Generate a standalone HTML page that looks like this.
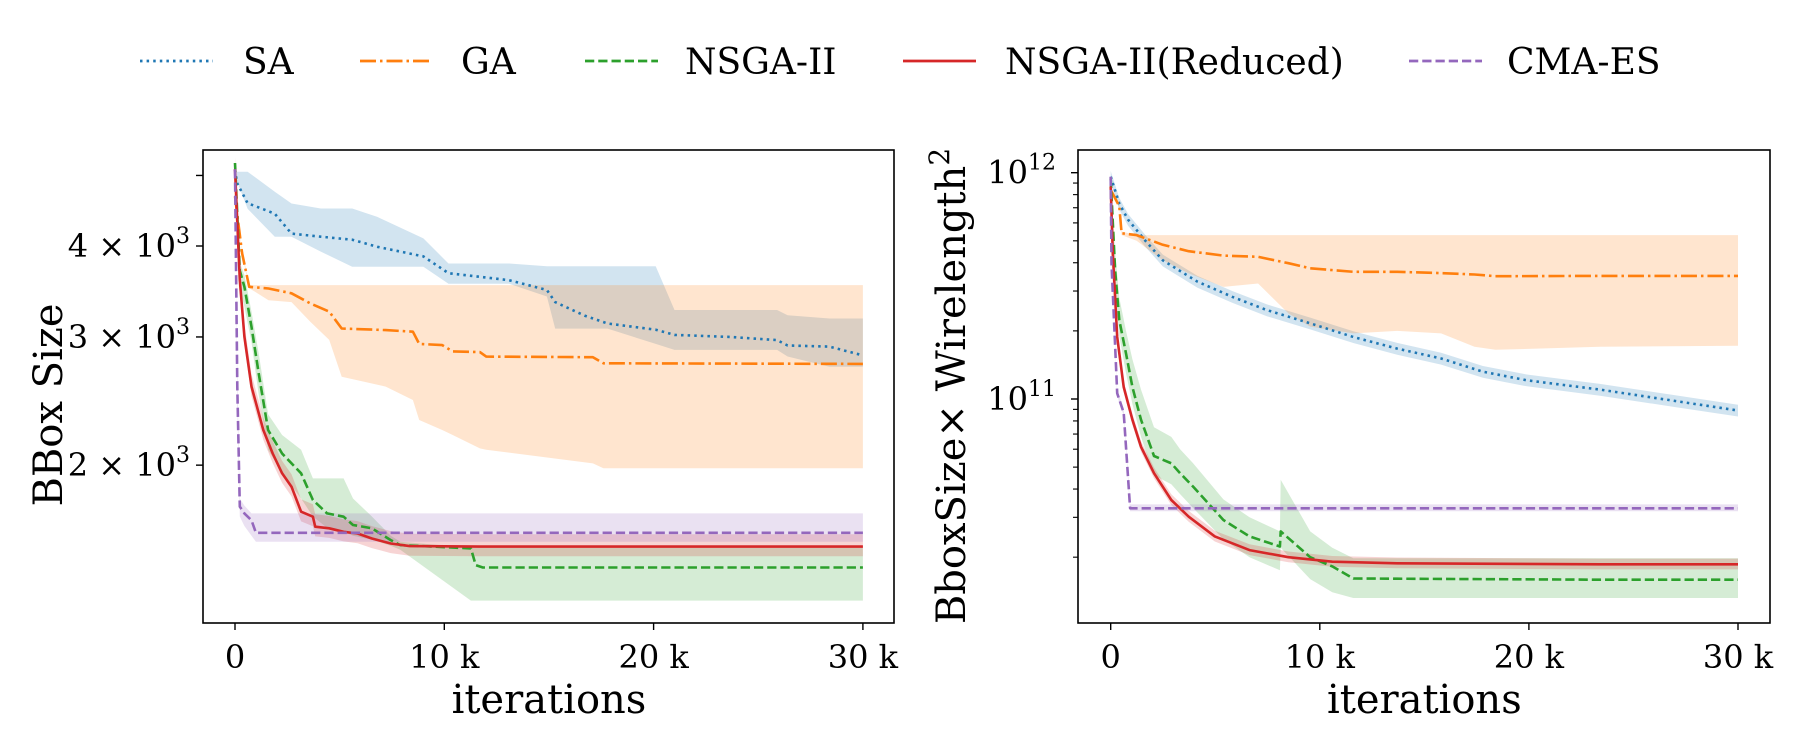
<!DOCTYPE html>
<html><head><meta charset="utf-8">
<style>
html,body{margin:0;padding:0;background:#fff;}
svg{display:block;font-family:"DejaVu Serif","Liberation Serif",serif;}
</style></head>
<body>
<svg id="fig" width="1800" height="750" viewBox="0 0 1800 750" xmlns="http://www.w3.org/2000/svg">
<defs>
<clipPath id="clipL"><rect x="203" y="150" width="691" height="473"/></clipPath>
<clipPath id="clipR"><rect x="1078" y="150" width="692" height="473"/></clipPath>
</defs>
<g id="legend"></g>
<g id="panelL"></g>
<g id="panelR"></g>
</svg>
<script>
// ---------- Left panel data (BBox Size) ----------
const saX=[0,0.1,0.6,1.9,2.7,4.1,5.6,6.8,9.0,10.2,13.1,14.9,15.3,16.7,17.8,20.1,21,23.7,25.9,26.4,28.4,30];
const saY=[5090,4880,4580,4430,4160,4120,4080,3990,3870,3670,3590,3480,3350,3210,3130,3070,3020,3000,2970,2920,2910,2830];
const saHi=[5060,5060,5060,4750,4576,4504,4504,4386,4097,3785,3785,3753,3753,3753,3753,3753,3267,3267,3267,3214,3180,3180];
const saLo=[5000,4900,4500,4120,4120,3930,3745,3745,3745,3550,3550,3410,3080,3080,3080,2935,2880,2880,2880,2820,2730,2730];
const gaX=[0,0.34,0.68,1.6,2.7,3.6,4.5,5.1,7.2,8.5,8.8,9.9,10.4,11.7,12,17.1,17.6,30];
const gaY=[4680,3910,3516,3497,3444,3336,3250,3081,3066,3050,2935,2924,2866,2860,2819,2814,2760,2755];
const gaHi=[4700,3950,3535,3535,3535,3535,3535,3535,3535,3535,3535,3535,3535,3535,3535,3535,3535,3535];
const gaLo=[4680,3900,3500,3370,3350,3147,2972,2646,2564,2458,2307,2235,2200,2109,2100,2011,1980,1980];
const nsX=[0,0.23,0.45,0.79,1.13,1.58,2.25,3.16,3.72,4.4,5.19,5.64,6.54,7.44,7.9,11.27,11.5,11.84,30];
const nsY=[5200,3700,3516,3098,2673,2235,2075,1949,1791,1717,1699,1655,1638,1578,1553,1537,1458,1447,1447];
const nsHi=[5200,3800,3650,3250,2850,2350,2200,2100,1918,1918,1918,1800,1700,1600,1570,1540,1540,1540,1540];
const nsLo=[5200,3500,3300,2950,2500,2100,1950,1800,1700,1640,1620,1600,1580,1550,1530,1303,1303,1303,1303];
const rdX=[0,0.23,0.45,0.79,1.35,1.8,2.25,2.7,3.16,3.72,3.83,4.5,5.19,5.86,6.54,7.44,8.34,11.7,30];
const rdY=[5100,3593,3002,2564,2235,2075,1949,1868,1726,1699,1646,1638,1620,1611,1586,1561,1548,1546,1546];
const cmX=[0,0.11,0.23,0.45,0.79,1.0,30];
const cmY=[5100,2564,1754,1717,1680,1615,1615];
const cmHi=[5100,2700,1800,1760,1717,1717,1717];
const cmLo=[5100,2400,1700,1650,1600,1570,1570];
const yTicksL=[2000,3000,4000,5000];
const yTickLabelsL=["2","3","4",""];
const xTicks=[0,10,20,30];
const xTickLabels=["0","10 k","20 k","30 k"];

// ---------- Right panel data (BboxSize x Wirelength^2) ----------
const sa2X=[0,0.41,0.83,1.66,2.49,4.15,5.81,7.47,9.54,11.6,13.7,15.8,17.8,19.9,23.4,27,30];
const sa2Y=[9.6e11,7.3e11,6.2e11,5.0e11,4.1e11,3.3e11,2.83e11,2.47e11,2.16e11,1.88e11,1.67e11,1.51e11,1.32e11,1.21e11,1.1e11,0.98e11,0.89e11];
const ga2X=[0,0.41,0.52,1.24,2.49,3.73,5.39,7.05,8.5,9.54,11.6,13.7,15.8,17.4,18.4,23.4,30];
const ga2Y=[8.4e11,7.1e11,5.4e11,5.3e11,4.8e11,4.5e11,4.3e11,4.25e11,3.98e11,3.78e11,3.65e11,3.65e11,3.6e11,3.55e11,3.49e11,3.5e11,3.5e11];
const ga2Hi=[8.4e11,7.3e11,5.5e11,5.3e11,5.3e11,5.3e11,5.3e11,5.3e11,5.3e11,5.3e11,5.3e11,5.3e11,5.3e11,5.3e11,5.3e11,5.3e11,5.3e11];
const ga2Lo=[8.4e11,7.0e11,5.3e11,5.0e11,4.1e11,3.59e11,3.13e11,3.24e11,2.39e11,2.09e11,1.95e11,2.0e11,1.95e11,1.7e11,1.65e11,1.7e11,1.72e11];
const ns2X=[0,0.21,0.41,0.73,1.04,1.45,2.07,2.9,3.32,3.94,5.39,6.64,8.09,8.13,9.54,10.6,11.6,23.4,30];
const ns2Y=[9.4e11,3.72e11,2.23e11,1.59e11,1.13e11,8.1e10,5.6e10,5.2e10,4.7e10,4.1e10,2.92e10,2.47e10,2.23e10,2.6e10,2.0e10,1.82e10,1.61e10,1.59e10,1.59e10];
const ns2Hi=[9.4e11,4.5e11,2.8e11,2.0e11,1.5e11,1.1e11,7.5e10,6.8e10,6.0e10,5.2e10,3.6e10,3.0e10,2.6e10,4.4e10,2.6e10,2.2e10,1.98e10,1.98e10,1.98e10];
const ns2Lo=[9.4e11,3.2e11,1.9e11,1.3e11,9.5e10,6.8e10,4.6e10,4.2e10,3.8e10,3.3e10,2.4e10,2.0e10,1.75e10,2.2e10,1.6e10,1.4e10,1.32e10,1.32e10,1.32e10];
const rd2X=[0,0.1,0.31,0.62,1.04,1.45,2.07,2.9,3.73,4.98,6.64,8.5,10.6,13.7,23.4,30];
const rd2Y=[8.7e11,4.4e11,1.88e11,1.13e11,8.1e10,6.15e10,4.7e10,3.58e10,3.02e10,2.47e10,2.15e10,2.0e10,1.91e10,1.88e10,1.86e10,1.86e10];
const cm2X=[0,0.04,0.31,0.62,0.93,30];
const cm2Y=[9.6e11,3.98e11,1.06e11,8.7e10,3.29e10,3.29e10];
const yMajorR=[1e11,1e12];
const yMajorLabelsR=["11","12"];

const NS="http://www.w3.org/2000/svg";
const C={sa:"#1f77b4",ga:"#ff7f0e",ns:"#2ca02c",rd:"#d62728",cm:"#9467bd"};
const DASH={sa:"2.5 4.1",ga:"16 4 2.5 4",ns:"9.25 4",rd:"",cm:"9.25 4"};

function mk(tag,attrs,parent){const e=document.createElementNS(NS,tag);for(const k in attrs)e.setAttribute(k,attrs[k]);parent.appendChild(e);return e;}

// axis functions
const xL=k=>235+k*20.93;
const yL=v=>246-Math.log10(v/4000)*728;
const xR=k=>1110.7+k*20.91;
const yR=v=>172.7+(12-Math.log10(v))*226.3;

function linePath(xs,ys,fx,fy){return xs.map((x,i)=>(i?"L":"M")+fx(x).toFixed(1)+","+fy(ys[i]).toFixed(1)).join(" ");}
function bandPath(xs,hi,lo,fx,fy){let d=xs.map((x,i)=>(i?"L":"M")+fx(x).toFixed(1)+","+fy(hi[i]).toFixed(1)).join(" ");for(let i=xs.length-1;i>=0;i--)d+=" L"+fx(xs[i]).toFixed(1)+","+fy(lo[i]).toFixed(1);return d+" Z";}
function scale(arr,f){return arr.map(v=>v*f);}

function drawPanel(g,clip,fx,fy,series,box){
  const cg=mk("g",{"clip-path":"url(#"+clip+")"},g);
  series.forEach(s=>{
    const b=mk("path",{d:bandPath(s.x,s.hi,s.lo,fx,fy),fill:C[s.k],"fill-opacity":0.2,stroke:"none"},cg);
    
    
  });
  series.forEach(s=>{
    const p=mk("path",{d:linePath(s.x,s.y,fx,fy),fill:"none",stroke:C[s.k],"stroke-width":2.6,"stroke-dasharray":DASH[s.k],"stroke-linejoin":"round"},cg);
    
    
  });
  const r=mk("rect",{x:box[0],y:box[1],width:box[2]-box[0],height:box[3]-box[1],fill:"none",stroke:"#000","stroke-width":1.6},g);
  
  
  xTicks.forEach((t,i)=>{
    const x=fx(t);
    mk("line",{x1:x,y1:box[3],x2:x,y2:box[3]+7,stroke:"#000","stroke-width":1.4},g);
    const tx=mk("text",{x:x,y:box[3]+45,"font-size":32,"text-anchor":"middle",fill:"#000"},g);
    tx.textContent=xTickLabels[i];
    
    
  });
  const xl=mk("text",{x:(fx(0)+fx(30))/2,y:713,"font-size":40,"text-anchor":"middle",fill:"#000"},g);
  xl.textContent="iterations";
  
  
}

// ---------- Left ----------
const gL=document.getElementById("panelL");
drawPanel(gL,"clipL",xL,yL,[
  {k:"sa",x:saX,y:saY,hi:saHi,lo:saLo},
  {k:"ga",x:gaX,y:gaY,hi:gaHi,lo:gaLo},
  {k:"ns",x:nsX,y:nsY,hi:nsHi,lo:nsLo},
  {k:"rd",x:rdX,y:rdY,hi:scale(rdY,1.04),lo:scale(rdY,0.97)},
  {k:"cm",x:cmX,y:cmY,hi:cmHi,lo:cmLo}
],[203,150,894,623]);
yTicksL.forEach((v,i)=>{
  const y=yL(v);
  mk("line",{x1:203,y1:y,x2:196,y2:y,stroke:"#000","stroke-width":1.4},gL);
  if(yTickLabelsL[i]){
    const t=mk("text",{x:190,y:y+11,"font-size":32,"text-anchor":"end",fill:"#000"},gL);
    
    
    t.innerHTML=yTickLabelsL[i]+" × 10<tspan font-size=\"22\" dy=\"-14\">3</tspan>";
  }
});
const ylL=mk("text",{x:0,y:0,"font-size":40,"text-anchor":"middle",fill:"#000",transform:"translate(62,405) rotate(-90)"},gL);
ylL.textContent="BBox Size";



// ---------- Right ----------
const gR=document.getElementById("panelR");
drawPanel(gR,"clipR",xR,yR,[
  {k:"sa",x:sa2X,y:sa2Y,hi:scale(sa2Y,1.06),lo:scale(sa2Y,0.94)},
  {k:"ga",x:ga2X,y:ga2Y,hi:ga2Hi,lo:ga2Lo},
  {k:"ns",x:ns2X,y:ns2Y,hi:ns2Hi,lo:ns2Lo},
  {k:"rd",x:rd2X,y:rd2Y,hi:scale(rd2Y,1.06),lo:scale(rd2Y,0.95)},
  {k:"cm",x:cm2X,y:cm2Y,hi:scale(cm2Y,1.04),lo:scale(cm2Y,0.97)}
],[1078,150,1770,623]);
[1e10,1e11].forEach(dec=>{for(let m=2;m<=9;m++){const y=yR(m*dec);if(y>150&&y<623)mk("line",{x1:1078,y1:y,x2:1073,y2:y,stroke:"#000","stroke-width":1.1},gR);}});
yMajorR.forEach((v,i)=>{
  const y=yR(v);
  mk("line",{x1:1078,y1:y,x2:1071,y2:y,stroke:"#000","stroke-width":1.4},gR);
  const t=mk("text",{x:1056,y:y+11,"font-size":32,"text-anchor":"end",fill:"#000"},gR);
  
  
  t.innerHTML="10<tspan font-size=\"22\" dy=\"-14\">"+yMajorLabelsR[i]+"</tspan>";
});
const ylR=mk("text",{x:0,y:0,"font-size":40,"text-anchor":"middle",fill:"#000",transform:"translate(965,386) rotate(-90)"},gR);
ylR.innerHTML="BboxSize× Wirelength<tspan font-size=\"28\" dy=\"-16\">2</tspan>";



// ---------- Legend ----------
const legNames=["SA","GA","NSGA-II","NSGA-II(Reduced)","CMA-ES"];
const legKeys=["sa","ga","ns","rd","cm"];
const legHandleX=[140,360,585,903,1409];
const legTextX=[243,461,685,1005,1507];
const gLeg=document.getElementById("legend");
legKeys.forEach((k,i)=>{
  const e=mk("g",{},gLeg);
  
  
  mk("line",{x1:legHandleX[i],y1:61,x2:legHandleX[i]+73,y2:61,stroke:C[k],"stroke-width":2.8,"stroke-dasharray":DASH[k]},e);
  const t=mk("text",{x:legTextX[i],y:74,"font-size":36,fill:"#000"},e);
  t.textContent=legNames[i];
});
</script>
</body></html>
